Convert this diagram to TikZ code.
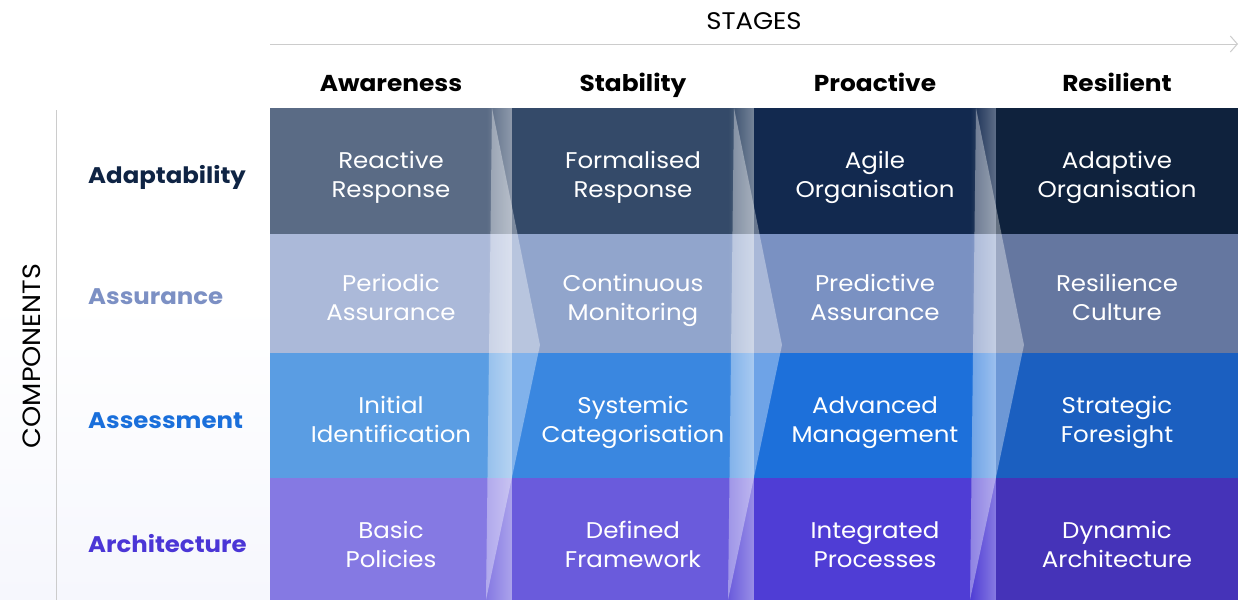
\documentclass[tikz,border=0pt]{standalone}
\usepackage{fontspec}
\setmainfont{Poppins}[FakeStretch=1.08]
\usetikzlibrary{arrows.meta,fadings}

% colours of the maturity grid
\definecolor{aA}{HTML}{5A6B85}\definecolor{aB}{HTML}{344A69}\definecolor{aC}{HTML}{12294F}\definecolor{aD}{HTML}{0F223D}
\definecolor{uA}{HTML}{ABB9D9}\definecolor{uB}{HTML}{91A5CC}\definecolor{uC}{HTML}{7A91C2}\definecolor{uD}{HTML}{6577A0}
\definecolor{sA}{HTML}{5A9DE3}\definecolor{sB}{HTML}{3A87E0}\definecolor{sC}{HTML}{1D70DA}\definecolor{sD}{HTML}{1B5FC0}
\definecolor{rA}{HTML}{8579E3}\definecolor{rB}{HTML}{6A5BDC}\definecolor{rC}{HTML}{4F3DD5}\definecolor{rD}{HTML}{4533B8}
\definecolor{labAdapt}{HTML}{0F2444}
\definecolor{labAssur}{HTML}{7C90C4}
\definecolor{labAssess}{HTML}{1A6FDB}
\definecolor{labArch}{HTML}{4B36D6}
\definecolor{axisgray}{HTML}{CCCCCC}

\tikzfading[name=fadeinright, left color=transparent!100, right color=transparent!0]

\tikzset{
  cell/.style={draw=none, inner sep=0pt, minimum width=242pt, anchor=north west},
  celltext/.style={text=white, align=center, font=\fontsize{22.7}{29}\selectfont, inner sep=0pt},
  rowlabel/.style={anchor=base west, font=\fontsize{22.6}{27}\selectfont\bfseries, inner sep=0pt},
  stagehead/.style={anchor=base, font=\fontsize{23}{28}\selectfont\bfseries, text=black, inner sep=0pt},
  axislabel/.style={anchor=base, font=\fontsize{24}{29}\selectfont, text=black, inner sep=0pt},
  axisline/.style={draw=axisgray, line width=1pt},
  bandfade/.style={fill=white, fill opacity=0.32, path fading=fadeinright},
  chevron/.style={fill=white, fill opacity=0.36},
}

\begin{document}
\begin{tikzpicture}[x=1pt, y=-1pt]
  \useasboundingbox (0,0) rectangle (1243,600);
  \fill[white] (0,0) rectangle (1243,600);
  % faint tint behind the component labels
  \shade[top color=white, bottom color={rgb,255:red,246;green,247;blue,253}] (0,300) rectangle (270,600);

  % axes
  \coordinate (sx0) at (270,44);
  \coordinate (sx1) at (1238,44);
  \draw[axisline, -{Straight Barb[length=7pt, width=16pt, line width=1pt]}] (sx0) -- (sx1);
  \node[axislabel] (stages) at (754,29) {STAGES};
  \coordinate (cy0) at (56,110);
  \coordinate (cy1) at (56,600);
  \draw[axisline] (cy0) -- (cy1);
  \node[axislabel, font=\fontsize{25}{30}\selectfont, rotate=90] (components) at (40,356) {COMPONENTS};

  % stage headings
  \node[stagehead] (hA) at (391,91) {Awareness};
  \node[stagehead] (hB) at (633,91) {Stability};
  \node[stagehead] (hC) at (875,91) {Proactive};
  \node[stagehead] (hD) at (1117,91) {Resilient};

  % component labels
  \node[rowlabel, text=labAdapt]  (lAdapt)  at (88,183) {Adaptability};
  \node[rowlabel, text=labAssur]  (lAssur)  at (88,304) {Assurance};
  \node[rowlabel, text=labAssess] (lAssess) at (88,428) {Assessment};
  \node[rowlabel, text=labArch]   (lArch)   at (88,552) {Architecture};

  % grid cells
  \foreach \c/\x in {A/270,B/512,C/754,D/996}{
    \node[cell, fill=a\c, minimum height=126pt] (a\c) at (\x,108) {};
    \node[cell, fill=u\c, minimum height=119pt] (u\c) at (\x,234) {};
    \node[cell, fill=s\c, minimum height=125pt] (s\c) at (\x,353) {};
    \node[cell, fill=r\c, minimum height=122pt] (r\c) at (\x,478) {};
  }

  % progression chevrons between the stages
  \foreach \b in {512,754,996}{
    \fill[bandfade] (\b-26,108) rectangle (\b,600);
    \fill[chevron] (\b-20,108) -- (\b+28,345) -- (\b-26,600) -- cycle;
  }

  % cell texts (struts keep every two-line block the same height)
  \node[celltext] (tAA) at (391,177.5) {\strut Reactive\\Response\strut};
  \node[celltext] (tAB) at (633,177.5) {\strut Formalised\\Response\strut};
  \node[celltext] (tAC) at (875,177.5) {\strut Agile\\Organisation\strut};
  \node[celltext] (tAD) at (1117,177.5) {\strut Adaptive\\Organisation\strut};

  \node[celltext] (tUA) at (391,300.5) {\strut Periodic\\Assurance\strut};
  \node[celltext] (tUB) at (633,300.5) {\strut Continuous\\Monitoring\strut};
  \node[celltext] (tUC) at (875,300.5) {\strut Predictive\\Assurance\strut};
  \node[celltext] (tUD) at (1117,300.5) {\strut Resilience\\Culture\strut};

  \node[celltext] (tSA) at (391,422) {\strut Initial\\Identification\strut};
  \node[celltext] (tSB) at (633,422) {\strut Systemic\\Categorisation\strut};
  \node[celltext] (tSC) at (875,422) {\strut Advanced\\Management\strut};
  \node[celltext] (tSD) at (1117,422) {\strut Strategic\\Foresight\strut};

  \node[celltext] (tRA) at (391,547.5) {\strut Basic\\Policies\strut};
  \node[celltext] (tRB) at (633,547.5) {\strut Defined\\Framework\strut};
  \node[celltext] (tRC) at (875,547.5) {\strut Integrated\\Processes\strut};
  \node[celltext] (tRD) at (1117,547.5) {\strut Dynamic\\Architecture\strut};
\end{tikzpicture}
\end{document}
